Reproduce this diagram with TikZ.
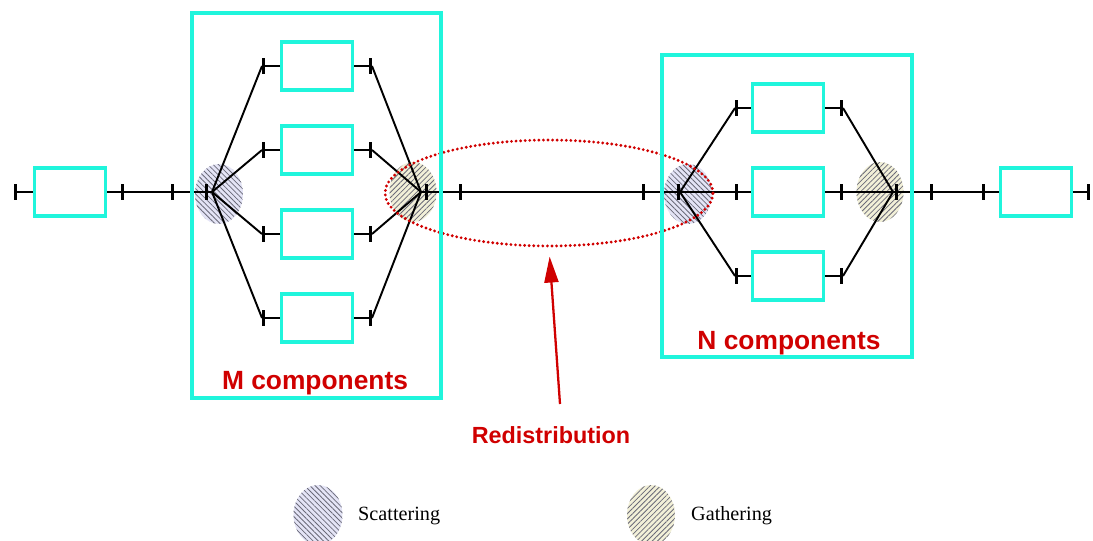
\documentclass[tikz,border=0pt]{standalone}
\usepackage{fontspec}
\setmainfont{Liberation Serif}
\setsansfont{Liberation Sans}
\usetikzlibrary{arrows.meta,patterns.meta,shapes.geometric}
\definecolor{aqua}{HTML}{20F5DC}
\definecolor{darkred}{HTML}{D00000}
\definecolor{lavender}{HTML}{E4E4F6}
\definecolor{beige}{HTML}{F2F0D8}
\definecolor{hatch}{HTML}{6A6A78}

\begin{document}
\begin{tikzpicture}[x=0.02cm,y=-0.02cm,
  pb/.tip={Rectangle[length=1.6pt,width=3.2mm]},
  comp/.style={draw=aqua,line width=2.2pt,minimum width=1.42cm,minimum height=0.96cm,inner sep=0pt},
  grp/.style={draw=aqua,line width=2.2pt},
  w/.style={line width=1.1pt},
  scat/.style={preaction={fill=lavender},pattern={Lines[angle=-45,distance=2.1pt,line width=0.45pt]},pattern color=hatch},
  gath/.style={preaction={fill=beige},pattern={Lines[angle=45,distance=2.1pt,line width=0.45pt]},pattern color=hatch},
  lbl/.style={font=\sffamily\bfseries,text=darkred}]
  \useasboundingbox (0,0) rectangle (1093,541);
  % hubs
  \path[scat] (219,194) ellipse[x radius=0.48cm,y radius=0.6cm];
  \path[gath] (413,192) ellipse[x radius=0.47cm,y radius=0.6cm];
  \path[scat] (688,194) ellipse[x radius=0.48cm,y radius=0.6cm];
  \path[gath] (880,192) ellipse[x radius=0.47cm,y radius=0.6cm];
  \coordinate (ms) at (212,192); \coordinate (mg) at (421,192);
  \coordinate (ns) at (680,192); \coordinate (ng) at (893,192);
  % components
  \node[comp] (l) at (70,192) {};
  \node[comp] (r) at (1036,192) {};
  \foreach \i/\y in {1/66,2/150,3/234,4/318} {
    \node[comp] (m\i) at (317,\y) {};
    \coordinate (mi\i) at (262,\y); \coordinate (mo\i) at (372,\y);
    \draw[w,pb-] (mi\i) -- (m\i.west); \draw[w,-pb] (m\i.east) -- (mo\i);
    \draw[w] (ms) -- (mi\i); \draw[w] (mo\i) -- (mg);
  }
  \foreach \i/\y in {1/108,2/192,3/276} {
    \node[comp] (n\i) at (788,\y) {};
    \coordinate (ni\i) at (735,\y); \coordinate (no\i) at (843,\y);
    \draw[w,pb-] (ni\i) -- (n\i.west); \draw[w,-pb] (n\i.east) -- (no\i);
    \draw[w] (ns) -- (ni\i); \draw[w] (no\i) -- (ng);
  }
  % ports and links
  \coordinate (lin) at (14,192); \coordinate (lout) at (124,192);
  \coordinate (min) at (171,192); \coordinate (mhub) at (208,192);
  \coordinate (mout) at (425,192); \coordinate (mext) at (462,192);
  \coordinate (nin) at (642,192); \coordinate (nhub) at (680,192);
  \coordinate (nout) at (895,192); \coordinate (next) at (933,192);
  \coordinate (rin) at (982,192); \coordinate (rout) at (1090,192);
  \draw[w,pb-] (lin) -- (l.west); \draw[w,-pb] (l.east) -- (lout);
  \draw[w] (lout) -- (min);
  \draw[w,pb-pb] (min) -- (mhub); \draw[w] (mhub) -- (ms);
  \draw[w] (mg) -- (mout); \draw[w,pb-pb] (mout) -- (mext);
  \draw[w] (mext) -- (nin);
  \draw[w,pb-pb] (nin) -- (nhub);
  \draw[w] (ng) -- (nout); \draw[w,pb-pb] (nout) -- (next);
  \draw[w] (next) -- (rin);
  \draw[w,pb-] (rin) -- (r.west); \draw[w,-pb] (r.east) -- (rout);
  % redistribution
  \node[draw=darkred,line width=1.8pt,dash pattern=on 0pt off 2.6pt,line cap=round,
    ellipse,minimum width=6.56cm,minimum height=2.12cm,inner sep=0pt] (red) at (549,193) {};
  \node[lbl,font=\sffamily\bfseries\fontsize{13.3}{15}\selectfont] (rd) at (551,435) {Redistribution};
  \coordinate (rtail) at (560,404);
  \draw[darkred,line width=1.3pt,shorten >=0.18cm,-{Triangle[length=5.2mm,width=2.8mm]}] (rtail) -- (red.south);
  % groups
  \draw[grp] (192,13) rectangle (441,398);
  \draw[grp] (662,55) rectangle (912,357);
  \node[lbl,font=\sffamily\bfseries\fontsize{15}{18}\selectfont] (mlab) at (315,383) {M components};
  \node[lbl,font=\sffamily\bfseries\fontsize{15}{18}\selectfont] (nlab) at (789,343) {N components};
  % legend
  \path[scat] (318,515) ellipse[x radius=0.49cm,y radius=0.6cm];
  \node[font=\fontsize{11.5}{14}\selectfont,anchor=west] (sc) at (352,516) {Scattering};
  \path[gath] (651,515) ellipse[x radius=0.48cm,y radius=0.6cm];
  \node[font=\fontsize{11.5}{14}\selectfont,anchor=west] (ga) at (685,516) {Gathering};
\end{tikzpicture}
\end{document}
